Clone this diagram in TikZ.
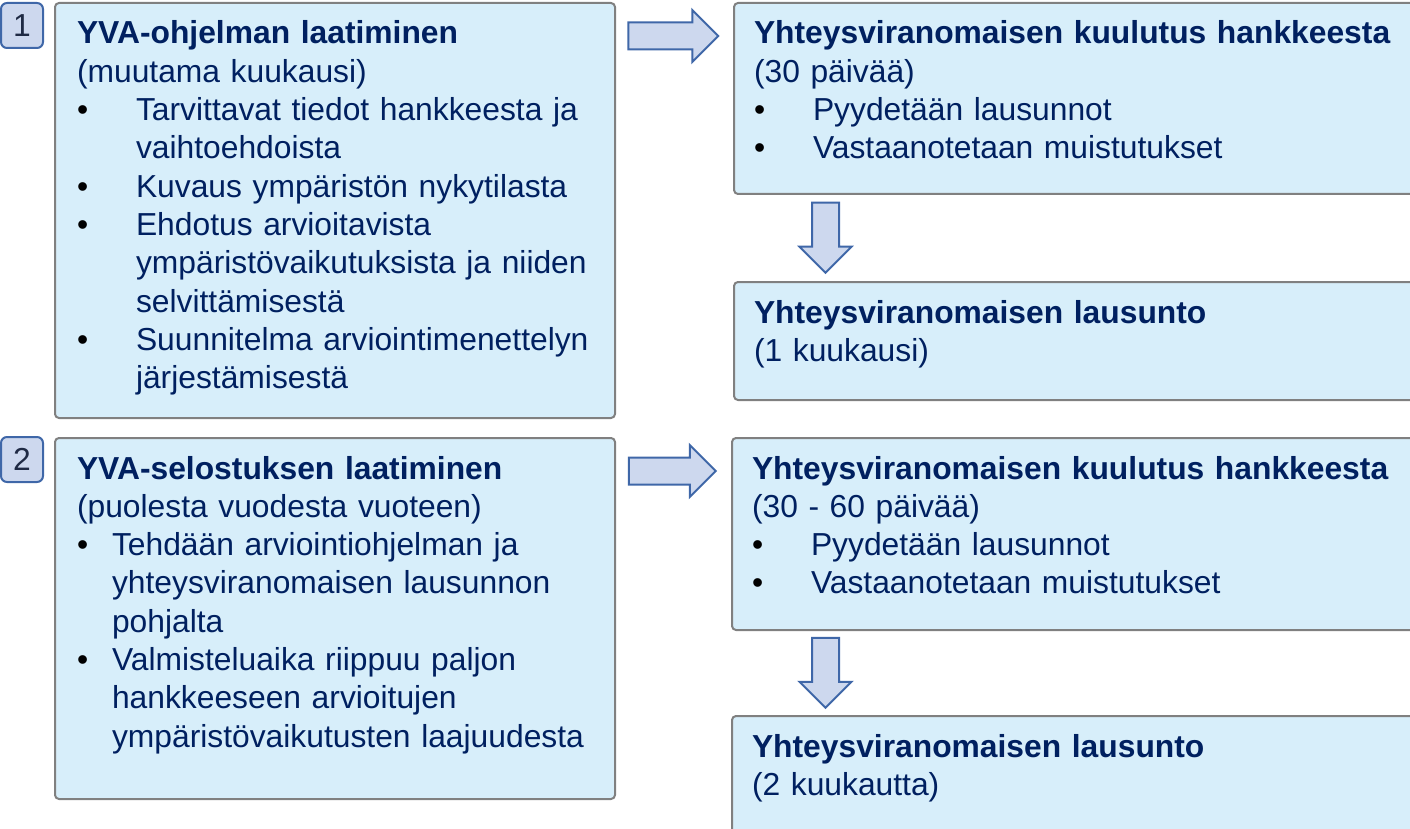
\documentclass[tikz,border=0pt]{standalone}
\usepackage{fontspec}
\setmainfont{Liberation Sans}
\usetikzlibrary{positioning,calc,shapes.arrows}

\definecolor{tekstisin}{HTML}{002060}
\definecolor{laatikkotaus}{HTML}{D7EEFA}
\definecolor{reuna}{HTML}{808080}
\definecolor{nuolitaus}{HTML}{CDD8EE}
\definecolor{nuolireuna}{HTML}{3F67A8}
\definecolor{numerosin}{HTML}{1F2A44}

\newcommand\kohta[2][29.5pt]{\par\hangindent=#1\hangafter=1\rightskip=-8pt plus 1fil
  \makebox[#1][l]{\textcolor{black}{\textbullet}}#2\par}

\begin{document}
\begin{tikzpicture}[x=0.5pt,y=-0.5pt,
    font=\fontsize{15.9}{19.15}\selectfont,
    laatikko/.style={draw=reuna, fill=laatikkotaus, line width=1pt, rounded corners=2pt,
      anchor=north west, inner xsep=11pt, inner ysep=0pt, text height=20.5pt,
      align=left, text=tekstisin},
    vasen/.style={laatikko, text width=258pt},
    oikea/.style={laatikko, inner xsep=10pt, text width=324.5pt},
    numero/.style={draw=nuolireuna, fill=nuolitaus, line width=1pt, rounded corners=3pt,
      minimum width=21pt, minimum height=22.5pt, inner sep=0pt, text=numerosin},
    nuoli/.style={single arrow, draw=nuolireuna, fill=nuolitaus, line width=1pt,
      inner sep=6.25pt, minimum width=25pt, single arrow head extend=6.25pt}]
  \useasboundingbox (0,0) rectangle (1410,829);

  % vasen sarake
  \node[vasen, text depth=187pt] (ohj) at (54,2) {\textbf{YVA-ohjelman laatiminen}\par
    (muutama kuukausi)
    \kohta{Tarvittavat tiedot hankkeesta ja\newline vaihtoehdoista}
    \kohta{Kuvaus ympäristön nykytilasta}
    \kohta{Ehdotus arvioitavista\newline ympäristövaikutuksista ja niiden\newline selvittämisestä}
    \kohta{Suunnitelma arviointimenettelyn\newline järjestämisestä}};
  \node[vasen, text depth=160pt, below=9pt of ohj.south west, anchor=north west] (sel)
    {\textbf{YVA-selostuksen laatiminen}\par
    (puolesta vuodesta vuoteen)
    \kohta[17.5pt]{Tehdään arviointiohjelman ja\newline yhteysviranomaisen lausunnon\newline pohjalta}
    \kohta[17.5pt]{Valmisteluaika riippuu paljon\newline hankkeeseen arvioitujen\newline ympäristövaikutusten laajuudesta}};

  \node[numero, left=5pt of ohj.north west, anchor=north east] (n1) {1};
  \node[numero, left=5pt of sel.north west, anchor=north east, yshift=0.5pt] (n2) {2};

  % oikea sarake
  \node[oikea, text depth=75pt, right=58.5pt of ohj.north east, anchor=north west] (kuul1)
    {\textbf{Yhteysviranomaisen kuulutus hankkeesta}\par
    (30 päivää)
    \kohta{Pyydetään lausunnot}
    \kohta{Vastaanotetaan muistutukset}};
  \node[oikea, text depth=38.5pt, below=43pt of kuul1.south west, anchor=north west] (lau1)
    {\textbf{Yhteysviranomaisen lausunto}\par
    (1 kuukausi)};
  \node[oikea, text depth=75.5pt, right=57.5pt of sel.north east, anchor=north west] (kuul2)
    {\textbf{Yhteysviranomaisen kuulutus hankkeesta}\par
    (30 - 60 päivää)
    \kohta{Pyydetään lausunnot}
    \kohta{Vastaanotetaan muistutukset}};
  \node[oikea, text depth=44.5pt, below=42pt of kuul2.south west, anchor=north west] (lau2)
    {\textbf{Yhteysviranomaisen lausunto}\par
    (2 kuukautta)};

  % nuolet
  \node[nuoli, minimum height=45pt] (a1) at ($(ohj.north east)!0.5!(kuul1.north west)+(-8,34)$) {};
  \node[nuoli, minimum height=43.5pt] (a2) at ($(sel.north east)!0.5!(kuul2.north west)+(-8,34)$) {};
  \node[nuoli, minimum height=35pt, minimum width=25.5pt, shape border rotate=270] (a3)
    at ($(kuul1.south west)!0.5!(lau1.north west)+(92.5,-7)$) {};
  \node[nuoli, minimum height=35pt, minimum width=25.5pt, shape border rotate=270] (a4)
    at ($(kuul2.south west)!0.5!(lau2.north west)+(94.5,-7)$) {};
\end{tikzpicture}
\end{document}
